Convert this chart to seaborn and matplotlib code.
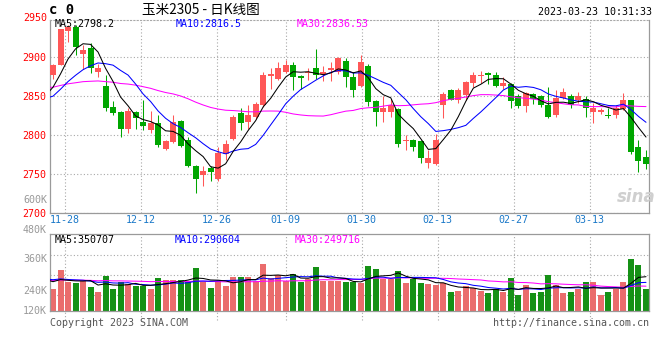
import numpy as np
import pandas as pd
import seaborn as sns
import matplotlib.pyplot as plt

# ---- data (C2305 corn, daily K line) ----
dates = ["11-28", "12-12", "12-26", "01-09", "01-30", "02-13", "02-27", "03-13"]
date_idx = [2, 12, 22, 31, 41, 51, 61, 71]

open_ = [2876, 2890, 2933, 2938, 2903, 2911, 2880, 2863, 2836, 2829,
         2808, 2829, 2817, 2806, 2815, 2782, 2791, 2818, 2793, 2760,
         2749, 2757, 2744, 2776, 2795, 2828, 2816, 2823, 2838, 2875,
         2872, 2881, 2890, 2875, 2879, 2885, 2878, 2883, 2880, 2895,
         2874, 2863, 2888, 2843, 2829, 2829, 2833, 2792, 2794, 2792,
         2764, 2763, 2838, 2858, 2844, 2851, 2867, 2875, 2879, 2876,
         2862, 2865, 2850, 2837, 2852, 2850, 2838, 2825, 2847, 2850,
         2844, 2846, 2829, 2829, 2826, 2826, 2833, 2844, 2785, 2772]
high = [2891, 2936, 2940, 2940, 2915, 2918, 2891, 2876, 2843, 2830,
        2834, 2830, 2844, 2831, 2825, 2794, 2825, 2819, 2797, 2761,
        2760, 2760, 2785, 2794, 2825, 2835, 2838, 2842, 2880, 2886,
        2893, 2896, 2893, 2877, 2886, 2910, 2888, 2893, 2900, 2899,
        2880, 2902, 2891, 2844, 2850, 2846, 2835, 2800, 2795, 2793,
        2780, 2801, 2855, 2859, 2860, 2869, 2880, 2882, 2880, 2880,
        2874, 2866, 2852, 2855, 2854, 2851, 2861, 2857, 2860, 2852,
        2855, 2850, 2841, 2834, 2834, 2838, 2854, 2845, 2794, 2780]
low = [2871, 2889, 2919, 2902, 2884, 2879, 2874, 2830, 2825, 2797,
       2803, 2807, 2806, 2803, 2785, 2780, 2789, 2784, 2759, 2726,
       2735, 2741, 2741, 2768, 2794, 2806, 2808, 2820, 2836, 2859,
       2870, 2879, 2858, 2859, 2870, 2871, 2869, 2869, 2878, 2861,
       2848, 2861, 2837, 2811, 2817, 2823, 2785, 2781, 2779, 2764,
       2757, 2762, 2821, 2844, 2841, 2844, 2861, 2867, 2865, 2861,
       2859, 2834, 2834, 2829, 2840, 2836, 2822, 2823, 2846, 2834,
       2841, 2823, 2815, 2827, 2821, 2821, 2832, 2775, 2753, 2756]
close = [2890, 2935, 2938, 2912, 2908, 2886, 2886, 2834, 2828, 2808,
         2830, 2821, 2811, 2815, 2787, 2792, 2817, 2786, 2760, 2744,
         2754, 2752, 2777, 2788, 2823, 2815, 2825, 2840, 2876, 2878,
         2886, 2890, 2874, 2873, 2881, 2876, 2881, 2885, 2899, 2874,
         2858, 2893, 2842, 2829, 2835, 2838, 2788, 2794, 2785, 2770,
         2770, 2793, 2852, 2845, 2857, 2868, 2877, 2877, 2876, 2862,
         2867, 2843, 2837, 2854, 2846, 2838, 2823, 2847, 2855, 2838,
         2850, 2835, 2834, 2832, 2824, 2834, 2844, 2778, 2767, 2763]
volume_k = [225, 420, 294, 287, 307, 246, 194, 358, 225, 297,
            273, 259, 259, 225, 338, 317, 317, 317, 294, 443,
            294, 239, 307, 256, 348, 348, 348, 307, 481, 338,
            368, 307, 379, 294, 328, 450, 307, 307, 307, 294,
            298, 283, 461, 433, 324, 324, 409, 290, 324, 290,
            280, 266, 283, 194, 205, 256, 239, 205, 184, 222,
            198, 338, 164, 270, 184, 194, 368, 263, 184, 194,
            222, 297, 297, 164, 194, 222, 297, 536, 471, 229]

# sessions before the visible window (estimated so the MA lines start where they do)
pre_close = [2870, 2868, 2875, 2872, 2866, 2870, 2874, 2860, 2852, 2856,
             2852, 2862, 2870, 2878, 2874, 2866, 2871, 2865, 2868, 2872,
             2864, 2846, 2840, 2832, 2836, 2836, 2850, 2843, 2847, 2875]
pre_volume_k = [310, 300, 318, 296, 322, 305, 312, 290, 326, 308,
                315, 298, 320, 310, 304, 316, 300, 322, 309, 306,
                313, 335, 352, 330, 345, 338, 312, 330, 318, 315]

RED = "#FF5757"
GREEN = "#00A600"
GRID = "#A8A8A8"
FRAME = "#9A9A9A"
MA_COLORS = {5: "black", 10: "#0000FF", 30: "#FF00FF"}

sns.set_theme(style="white")
plt.rcParams["font.family"] = ["DejaVu Sans Mono", "DejaVu Sans"]
FS = 7.2

n = len(close)
df = pd.DataFrame({"idx": np.arange(n), "open": open_, "high": high,
                   "low": low, "close": close, "vol": np.array(volume_k) * 1000})
df["up"] = df["close"] >= df["open"]
colors = np.where(df["up"], RED, GREEN)

k = len(pre_close)
all_close = pd.Series(pre_close + close, dtype=float)
all_vol = pd.Series(pre_volume_k + volume_k, dtype=float) * 1000
x_ma = np.arange(-1, n)
ma_price = {w: all_close.rolling(w).mean().iloc[k - 1:].to_numpy() for w in (5, 10, 30)}
ma_vol = {w: all_vol.rolling(w).mean().iloc[k - 1:].to_numpy() for w in (5, 10, 30)}

# Sina spaces its date grid a touch wider than the candles
date_pos = np.array(date_idx) * 1.0125 - 0.4

W, H = 660, 360


def box(l, t, r, b):
    return [l / W, 1 - b / H, (r - l) / W, (b - t) / H]


fig = plt.figure(figsize=(6.6, 3.6), dpi=100)
ax = fig.add_axes(box(50, 20, 649, 213))
axv = fig.add_axes(box(50, 234, 649, 311))

# ---- candles ----
ax.vlines(df["idx"], df["low"], df["high"], colors=colors, lw=0.75, zorder=2)
body = (df["close"] - df["open"]).abs().clip(lower=0.9)
ax.bar(df["idx"], body, bottom=np.minimum(df["open"], df["close"]),
       width=0.8, color=colors, linewidth=0, zorder=3)
for w in (30, 10, 5):
    sns.lineplot(x=x_ma, y=ma_price[w], color=MA_COLORS[w], lw=0.75, ax=ax, zorder=4)

ax.set_xlim(-0.4, n - 0.6)
ax.set_ylim(2700, 2947)
ax.set_yticks([2700, 2750, 2800, 2850, 2900])
ax.set_yticklabels(["2700", "2750", "2800", "2850", "2900"], color="red", fontsize=FS)
ax.set_xticks(date_pos)
ax.set_xticklabels(dates, color="#1A78C8", fontsize=FS)
ax.tick_params(axis="both", length=0)
ax.tick_params(axis="y", pad=3)
ax.tick_params(axis="x", pad=1.5)
ax.grid(True, color=GRID, linestyle=(0, (1, 2)), lw=0.8)
ax.set_xlabel("")
ax.set_ylabel("")
ax.text(-0.005, 2950, "2950", color="red", fontsize=FS, ha="right", va="center",
        transform=ax.get_yaxis_transform(), clip_on=False)

# ---- volume ----
sns.barplot(x=df["idx"], y=df["vol"], hue=df["up"], palette={True: RED, False: GREEN},
            dodge=False, width=0.8, linewidth=0, legend=False, ax=axv, zorder=2)
for w in (30, 10, 5):
    sns.lineplot(x=x_ma, y=ma_vol[w], color=MA_COLORS[w], lw=0.75, ax=axv, zorder=4)
axv.set_xlim(-0.4, n - 0.6)
axv.set_ylim(0, 788000)
axv.set_yticks([164000, 368000, 573000])
axv.set_yticklabels([])
axv.set_xticks(date_pos)
axv.set_xticklabels([])
axv.tick_params(axis="both", length=0)
axv.grid(True, color=GRID, linestyle=(0, (1, 2)), lw=0.8)
axv.set_xlabel("")
axv.set_ylabel("")
axv.vlines(date_pos, -9 / 77, 0, transform=axv.get_xaxis_transform(), clip_on=False,
           color=GRID, linestyle=(0, (1, 2)), lw=0.8)

vol_labels = [("120K", 0), ("240K", 205000), ("360K", 532000), ("480K", 829000), ("600K", 1136000)]
for lab, yv in vol_labels:
    axv.text(-0.005, yv, lab, color="#999999", fontsize=FS, ha="right", va="center",
             transform=axv.get_yaxis_transform(), clip_on=False)

for a in (ax, axv):
    for side in ("left", "bottom", "right"):
        a.spines[side].set_color(FRAME)
        a.spines[side].set_linewidth(0.9)
        a.spines[side].set_visible(True)
ax.spines["top"].set_color(GRID)
ax.spines["top"].set_linestyle((0, (1, 2)))
ax.spines["top"].set_linewidth(0.8)
axv.spines["top"].set_color(FRAME)
axv.spines["top"].set_linewidth(0.9)


def ftext(x, y, s, **kw):
    kw.setdefault("fontsize", FS)
    kw.setdefault("va", "center")
    fig.text(x / W, 1 - y / H, s, **kw)


# ---- header / legends / footer ----
ftext(49, 10, "c 0", fontsize=10, fontweight="bold", color="black")
ftext(142, 10, "玉米2305 - 日K线图", fontsize=9.8, color="black",
      family=["Noto Sans CJK SC", "DejaVu Sans"])
ftext(652, 12, "2023-03-23 10:31:33", ha="right", color="black")

ftext(55, 24, "MA5:2798.2", color=MA_COLORS[5])
ftext(176, 24, "MA10:2816.5", color=MA_COLORS[10])
ftext(297, 24, "MA30:2836.53", color=MA_COLORS[30])

ftext(55, 240, "MA5:350707", color=MA_COLORS[5])
ftext(175, 240, "MA10:290604", color=MA_COLORS[10])
ftext(295, 240, "MA30:249716", color=MA_COLORS[30])

ftext(636, 197, "sina", fontsize=12, fontweight="bold", style="italic",
      color="#CFCFCF", ha="center", family=["DejaVu Sans"])

ftext(50, 323, "Copyright 2023 SINA.COM", color="#555555")
ftext(649, 323, "http://finance.sina.com.cn", color="#555555", ha="right")

fig.savefig("out.png", dpi=100)
